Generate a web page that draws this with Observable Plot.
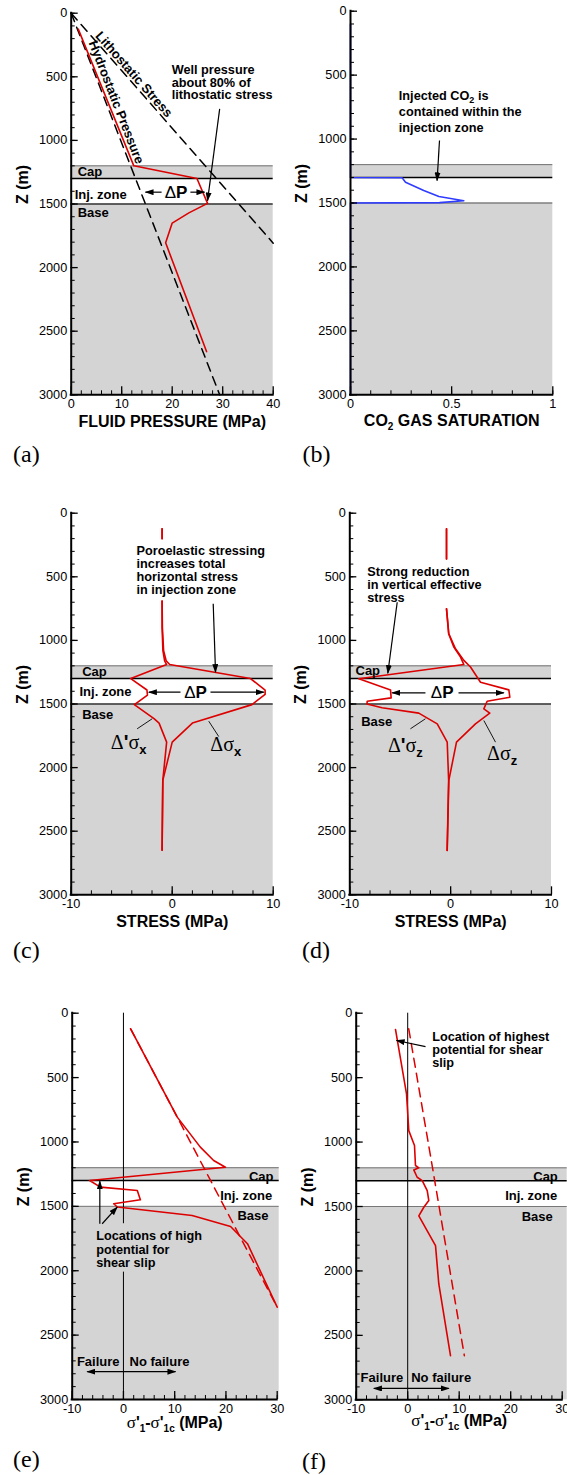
<!DOCTYPE html>
<html><head><meta charset="utf-8">
<script src="https://cdn.jsdelivr.net/npm/d3@7"></script>
<script src="https://cdn.jsdelivr.net/npm/@observablehq/plot@0.6"></script>
<style>
body{margin:0;background:#fff;}
#root{position:relative;width:567px;height:1475px;overflow:hidden;background:#fff;}
.panel{position:absolute;}
.panel svg{overflow:visible;}
.plabel{position:absolute;font-family:"Liberation Serif","Times New Roman",serif;font-size:24px;line-height:28px;color:#000;}
</style></head><body><div id="root"></div>
<script>
// ---------------- data ----------------
const depthTicks = [0, 500, 1000, 1500, 2000, 2500, 3000];
const depthMinor = d3.range(0, 3001, 100);
const layerTop = [1200, 1500];
const layerBottom = [1300, 3000];

// (a) fluid pressure
const hydroDepth = [0, 3000], hydroPress = [0, 29.4];
const lithoDepth = [0, 1808], lithoPress = [0, 40];
const wellDepth = [125, 1200, 1300, 1495, 1570, 1650, 1805, 2660];
const wellPress = [1.4, 12.4, 24.9, 27.0, 23.3, 20.0, 18.7, 26.8];
const pressTicks = [0, 10, 20, 30, 40];

// (b) CO2 gas saturation
const satDepth = [100, 1300, 1303, 1337, 1402, 1449, 1482, 1497, 1500, 3000];
const satValue = [0, 0, 0.255, 0.272, 0.362, 0.437, 0.56, 0.44, 0, 0];
const satTicks = [0, 0.5, 1];

// (c) horizontal stress change
const sxTopDepth = [123, 200], sxTop = [-1.0, -1.0];
const sxDepth = [690, 900, 1080, 1160, 1190, 1300, 1390, 1425, 1480, 1505, 1650, 1800, 2100, 2650];
const sxTotal = [-1.0, -0.97, -0.85, -0.6, -0.25, 7.75, 9.2, 9.2, 8.3, 7.9, 2.0, 0.0, -0.93, -1.0];
const sxEffDepth = [690, 900, 1080, 1160, 1190, 1300, 1390, 1430, 1485, 1505, 1615, 1650, 1800, 2100, 2650];
const sxEff = [-1.0, -1.0, -0.92, -0.75, -0.55, -4.1, -2.5, -2.45, -3.4, -3.75, -1.8, -1.3, -0.55, -0.93, -1.0];
const stressTicks = [-10, 0, 10];

// (d) vertical stress change
const szTopDepth = [123, 360], szTop = [-0.41, -0.41];
const szDepth = [752, 948, 1066, 1157, 1209, 1329, 1389, 1447, 1478, 1538, 1572, 1656, 1800, 2100, 2652];
const szTotal = [-0.41, -0.18, 0.48, 1.31, 1.97, 2.96, 5.77, 5.87, 3.62, 3.29, 3.88, 2.46, 0.58, -0.18, -0.34];
const szEffDepth = [752, 948, 1050, 1131, 1190, 1302, 1389, 1452, 1478, 1500, 1530, 1572, 1656, 1800, 2100, 2652];
const szEff = [-0.41, -0.2, 0.3, 0.98, 1.31, -9.1, -5.96, -5.9, -8.27, -8.3, -6.8, -3.16, -1.33, -0.34, -0.2, -0.35];

// (e) failure criterion, case 1
const eDepth = [121, 807, 1040, 1144, 1196, 1299, 1351, 1377, 1449, 1480, 1505, 1571, 1656, 1790, 2283];
const eSolid = [1.4, 10.5, 15.0, 17.6, 19.9, -6.6, -4.5, 2.7, 3.3, -1.9, -1.2, 13.4, 20.9, 24.2, 30.0];
const eDashDepth = [121, 860, 1610, 1740, 2283];
const eDash = [1.4, 11.2, 21.1, 22.8, 30.0];
const critTicks = [-10, 0, 10, 20, 30];

// (f) failure criterion, case 2
const fDepth = [126, 626, 911, 1027, 1182, 1200, 1216, 1273, 1299, 1376, 1454, 1506, 1573, 1804, 2101, 2658];
const fSolid = [-2.37, -0.23, 0.21, 1.32, 1.51, 2.16, 1.18, 1.84, 2.82, 3.79, 4.1, 3.13, 2.16, 5.4, 6.04, 8.31];
const fDashDepth = [121, 1195, 2658];
const fDash = [0.2, 4.8, 11.0];

// ---------------- helpers ----------------
const RED = "#dd0000", BLUE = "#2f3cff", GRAY = "#d4d4d4", ARROW = "#010101";
const FONT = "Liberation Sans, Arial, Helvetica, sans-serif";
const SERIF = "Liberation Serif, Times New Roman, serif";
const bands = layerTop.map((t, i) => ({top: t, bottom: layerBottom[i]}));
const pts = (xs, zs, seg = 0) => xs.map((x, i) => ({x, z: zs[i], seg}));
const T = (x, z, s, o = {}) => Plot.text([{x, z, s}], {x: "x", y: "z", text: "s", fontWeight: "bold", fontSize: 12.7, ...o});
const arrows = (list) => Plot.link(list.map(([x1, y1, x2, y2]) => ({x1, y1, x2, y2})), {x1: "x1", y1: "y1", x2: "x2", y2: "y2", stroke: ARROW, strokeWidth: 1.2});
const leaders = (list) => Plot.link(list.map(([x1, y1, x2, y2]) => ({x1, y1, x2, y2})), {x1: "x1", y1: "y1", x2: "x2", y2: "y2", stroke: "#000", strokeWidth: 0.9});
const fmt = d => String(d);

function rich(svg, key, parts) {
  d3.select(svg).selectAll("text, tspan").filter(function () {
    return this.textContent === key && this.children.length === 0;
  }).each(function () {
    const el = d3.select(this);
    el.text(null);
    let shift = 0;
    for (const p of parts) {
      const ts = el.append("tspan").text(p.t);
      const target = p.sub || 0;
      if (target !== shift) { ts.attr("dy", target - shift); shift = target; }
      if (p.fs) ts.attr("font-size", p.fs);
      if (p.fw) ts.attr("font-weight", p.fw);
      if (p.ff) ts.attr("font-family", p.ff);
    }
  });
}

const sigmaTitle = [
  {t: "σ", ff: SERIF, fw: "normal", fs: "17px"}, {t: "'", fw: "bold"}, {t: "1", sub: 4, fs: "10px"},
  {t: "-", fw: "bold"}, {t: "σ", ff: SERIF, fw: "normal", fs: "17px"}, {t: "'", fw: "bold"},
  {t: "1c", sub: 4, fs: "10px"}, {t: " (MPa)", fw: "bold"}
];
const dP = [{t: "Δ", fw: "normal"}, {t: "P", fw: "bold"}];
const dsig = (prime, sub) => [
  {t: "Δ", ff: SERIF, fw: "normal"}, ...(prime ? [{t: "'", ff: FONT, fw: "bold"}] : []),
  {t: "σ", ff: SERIF, fw: "normal"}, {t: sub, sub: 5, ff: FONT, fw: "bold", fs: "13px"}
];

function makePanel(c) {
  const frameW = c.fr - c.fl, frameH = c.fb - c.ft;
  const [xmin, xmax] = c.xdom;
  const ext = c.ext || 0;
  const marks = [
    Plot.rect(bands, {x1: () => xmin, x2: () => xmax, y1: "top", y2: "bottom", fill: GRAY, insetRight: -ext}),
    Plot.ruleY([1200], {x1: () => xmin, x2: () => xmax, stroke: "#707070", strokeWidth: 1, insetRight: -ext}),
    Plot.ruleY([1300], {x1: () => xmin, x2: () => xmax, stroke: "#000", strokeWidth: 1.5, insetRight: -ext}),
    Plot.ruleY([1500], {x1: () => xmin, x2: () => xmax, stroke: c.line1500 || "#333", strokeWidth: c.w1500 || 1.3, insetRight: -ext}),
    ...c.marks,
    Plot.ruleX([xmin], {strokeWidth: 2, strokeLinecap: "square"}),
    Plot.ruleY([3000], {strokeWidth: 2, strokeLinecap: "square"}),
    Plot.tickY(depthMinor, {y: d => d, insetRight: frameW - 4, strokeWidth: 1}),
    Plot.tickY(depthTicks, {y: d => d, insetRight: frameW - 7, strokeWidth: 1.3}),
    Plot.tickX(c.xminor, {x: d => d, insetTop: frameH - 4, strokeWidth: 1}),
    Plot.tickX(c.xticks, {x: d => d, insetTop: frameH - 8, strokeWidth: 1.3}),
    Plot.axisY(depthTicks, {tickSize: 0, tickPadding: 4, tickFormat: fmt, label: null, fontSize: 12.7}),
    Plot.axisX(c.xticks, {tickSize: 0, tickPadding: 4, tickFormat: fmt, label: null, fontSize: 12.7}),
    Plot.text([c.xtitle], {text: d => d, frameAnchor: "bottom", dy: c.xtitleDy, fontWeight: "bold", fontSize: 16}),
    Plot.text(["Z (m)"], {text: d => d, frameAnchor: "left", dx: -48.5, rotate: -90, fontWeight: "bold", fontSize: 16})
  ];
  const svg = Plot.plot({
    width: c.W, height: c.H,
    marginLeft: c.fl - c.L, marginRight: c.L + c.W - c.fr,
    marginTop: c.ft - c.T, marginBottom: c.T + c.H - c.fb,
    x: {domain: c.xdom}, y: {domain: [0, 3000], reverse: true},
    style: {fontFamily: FONT, fontSize: "12.7px", background: "transparent", overflow: "visible", maxWidth: "none"},
    marks
  });
  const s = d3.select(svg);
  const defs = s.append("defs");
  defs.append("marker").attr("id", "tri" + c.id).attr("viewBox", "0 0 10 10")
    .attr("refX", 9).attr("refY", 5).attr("markerWidth", 9).attr("markerHeight", 6)
    .attr("markerUnits", "userSpaceOnUse").attr("orient", "auto").attr("preserveAspectRatio", "none")
    .append("path").attr("d", "M0,0L10,5L0,10Z").attr("fill", "#000");
  s.selectAll(`g[stroke="${ARROW}"] path, path[stroke="${ARROW}"]`).attr("marker-end", `url(#tri${c.id})`);
  for (const [key, parts] of (c.rich || [])) rich(svg, key, parts);
  const div = document.createElement("div");
  div.className = "panel";
  div.style.left = c.L + "px"; div.style.top = c.T + "px"; div.style.width = c.W + "px"; div.style.height = c.H + "px";
  div.appendChild(svg);
  document.getElementById("root").appendChild(div);
}

function panelLabel(s, left, cy) {
  const d = document.createElement("div");
  d.className = "plabel"; d.textContent = s;
  d.style.left = left + "px"; d.style.top = (cy - 15) + "px";
  document.getElementById("root").appendChild(d);
}

const even = (a, b, step) => d3.range(a, b + step / 2, step);

// ---------------- (a) ----------------
makePanel({
  id: "a", L: 0, T: 0, W: 290, H: 440, fl: 70.7, fr: 272.7, ft: 12.7, fb: 394.3,
  xdom: [0, 40], xticks: pressTicks, xminor: even(0, 40, 2), xtitle: "FLUID PRESSURE (MPa)", xtitleDy: 32.4,
  marks: [
    Plot.line(pts(hydroPress, hydroDepth), {x: "x", y: "z", stroke: "#000", strokeWidth: 1.5, strokeDasharray: "9,6"}),
    Plot.line(pts(lithoPress, lithoDepth), {x: "x", y: "z", stroke: "#000", strokeWidth: 1.5, strokeDasharray: "9,6"}),
    Plot.line(pts(wellPress, wellDepth), {x: "x", y: "z", stroke: RED, strokeWidth: 1.6}),
    T(12.4, 482, "Lithostatic Stress", {rotate: 48.7, fontSize: 13}),
    T(8.9, 700, "Hydrostatic Pressure", {rotate: 68.7, fontSize: 13}),
    T(19.9, 545, "Well pressure\nabout 80% of\nlithostatic stress", {textAnchor: "start", lineHeight: 0.99}),
    arrows([[29.4, 752, 27.0, 1473], [17.9, 1407, 14.7, 1407], [23.6, 1407, 26.4, 1407]]),
    T(20.75, 1407, "ΔP", {fontSize: 17}),
    T(0, 1250, "Cap", {textAnchor: "start", dx: 6.5, fontSize: 13}),
    T(0, 1425, "Inj. zone", {textAnchor: "start", dx: 3.5, fontSize: 13}),
    T(0, 1570, "Base", {textAnchor: "start", dx: 6.5, fontSize: 13})
  ],
  rich: [["ΔP", dP]]
});
panelLabel("(a)", 13, 455);

// ---------------- (b) ----------------
makePanel({
  id: "b", L: 290, T: 0, W: 277, H: 440, fl: 350, fr: 552.3, ft: 10.7, fb: 394.3,
  xdom: [0, 1], xticks: satTicks, xminor: even(0, 1, 0.1), xtitle: "CO2TITLE", xtitleDy: 31,
  line1500: "#555", w1500: 1,
  marks: [
    Plot.line(pts(satValue, satDepth), {x: "x", y: "z", stroke: BLUE, strokeWidth: 1.6}),
    T(0.239, 777, "Injected CO2 is\ncontained within the\ninjection zone", {textAnchor: "start", lineHeight: 1.25}),
    arrows([[0.44, 1011, 0.428, 1324]])
  ],
  rich: [["CO2TITLE", [{t: "CO"}, {t: "2", sub: 4, fs: "10px"}, {t: " GAS SATURATION"}]],
         ["Injected CO2 is", [{t: "Injected CO"}, {t: "2", sub: 3, fs: "9px"}, {t: " is"}]]]
});
panelLabel("(b)", 302.5, 455);

// ---------------- (c) ----------------
makePanel({
  id: "c", L: 0, T: 480, W: 290, H: 460, fl: 70.7, fr: 272.7, ft: 512.7, fb: 894.3,
  xdom: [-10, 10], xticks: stressTicks, xminor: even(-10, 10, 2), xtitle: "STRESS (MPa)", xtitleDy: 32.4,
  marks: [
    Plot.line([...pts(sxTop, sxTopDepth, 0), ...pts(sxTotal, sxDepth, 1)], {x: "x", y: "z", z: "seg", stroke: RED, strokeWidth: 1.6}),
    Plot.line([...pts(sxTop, sxTopDepth, 0), ...pts(sxEff, sxEffDepth, 1)], {x: "x", y: "z", z: "seg", stroke: RED, strokeWidth: 1.6}),
    T(-3.53, 450, "Poroelastic stressing\nincreases total\nhorizontal stress\nin injection zone", {textAnchor: "start", lineHeight: 1.03}),
    arrows([[4.06, 712, 4.29, 1250], [0.82, 1407, -2.32, 1407], [3.79, 1407, 9.07, 1407]]),
    T(2.31, 1407, "ΔP", {fontSize: 17}),
    T(-10, 1245, "Cap", {textAnchor: "start", dx: 11, fontSize: 13}),
    T(-10, 1407, "Inj. zone", {textAnchor: "start", dx: 8.3, fontSize: 13}),
    T(-10, 1585, "Base", {textAnchor: "start", dx: 11, fontSize: 13}),
    leaders([[-3.47, 1695, -1.98, 1616], [4.61, 1756, 3.62, 1635]]),
    T(-4.31, 1800, "DSXE", {fontSize: 20}),
    T(5.3, 1818, "DSXT", {fontSize: 20})
  ],
  rich: [["ΔP", dP], ["DSXE", dsig(true, "x")], ["DSXT", dsig(false, "x")]]
});
panelLabel("(c)", 13, 951);

// ---------------- (d) ----------------
makePanel({
  id: "d", L: 290, T: 480, W: 277, H: 460, fl: 349.3, fr: 551, ft: 512.7, fb: 894.3,
  xdom: [-10, 10], xticks: stressTicks, xminor: even(-10, 10, 2), xtitle: "STRESS (MPa)", xtitleDy: 32.4,
  marks: [
    Plot.line([...pts(szTop, szTopDepth, 0), ...pts(szTotal, szDepth, 1)], {x: "x", y: "z", z: "seg", stroke: RED, strokeWidth: 1.6}),
    Plot.line([...pts(szTop, szTopDepth, 0), ...pts(szEff, szEffDepth, 1)], {x: "x", y: "z", z: "seg", stroke: RED, strokeWidth: 1.6}),
    T(-8.27, 560, "Strong reduction\nin vertical effective\nstress", {textAnchor: "start", lineHeight: 1.03}),
    arrows([[-5.3, 700, -6.23, 1258], [-2.5, 1412, -5.8, 1412], [0.78, 1412, 5.27, 1412]]),
    T(-0.84, 1412, "ΔP", {fontSize: 17}),
    T(-10, 1237, "Cap", {textAnchor: "start", dx: 5.7, fontSize: 13}),
    T(-10, 1643, "Base", {textAnchor: "start", dx: 11.4, fontSize: 13}),
    leaders([[-3.99, 1695, -2.5, 1616], [4.45, 1800, 3.29, 1630]]),
    T(-4.49, 1826, "DSZE", {fontSize: 20}),
    T(5.11, 1892, "DSZT", {fontSize: 20})
  ],
  rich: [["ΔP", dP], ["DSZE", dsig(true, "z")], ["DSZT", dsig(false, "z")]]
});
panelLabel("(d)", 302, 951);

// ---------------- (e) ----------------
makePanel({
  id: "e", L: 0, T: 990, W: 290, H: 450, fl: 71.7, fr: 276.7, ft: 1012.7, fb: 1399,
  xdom: [-10, 30], xticks: critTicks, xminor: even(-10, 30, 2), xtitle: "SIGTITLE", xtitleDy: 28, ext: 2,
  line1500: "#777", w1500: 1,
  marks: [
    Plot.ruleX([{a: 0, b: 1635}, {a: 2011, b: 3000}], {x: () => 0, y1: "a", y2: "b", stroke: "#000", strokeWidth: 1}),
    Plot.line(pts(eDash, eDashDepth), {x: "x", y: "z", stroke: RED, strokeWidth: 1.5, strokeDasharray: "9,6"}),
    Plot.line(pts(eSolid, eDepth), {x: "x", y: "z", stroke: RED, strokeWidth: 1.6}),
    T(-5.32, 1834, "Locations of high\npotential for\nshear slip", {textAnchor: "start", lineHeight: 1.06}),
    arrows([[-4.61, 1635, -4.61, 1305], [-4.15, 1635, -1.22, 1506], [0, 2784, -7.07, 2784], [0, 2784, 10.16, 2784]]),
    T(30, 1272, "Cap", {textAnchor: "end", dx: -3.7, fontSize: 13}),
    T(30, 1415, "Inj. zone", {textAnchor: "end", dx: -5, fontSize: 13}),
    T(30, 1572, "Base", {textAnchor: "end", dx: -8.7, fontSize: 13}),
    T(-0.77, 2710, "Failure", {textAnchor: "end", fontSize: 13}),
    T(1.18, 2710, "No failure", {textAnchor: "start", fontSize: 13})
  ],
  rich: [["SIGTITLE", sigmaTitle]]
});
panelLabel("(e)", 13, 1460);

// ---------------- (f) ----------------
makePanel({
  id: "f", L: 290, T: 990, W: 277, H: 450, fl: 355.7, fr: 561.7, ft: 1012.7, fb: 1399.3,
  xdom: [-10, 30], xticks: critTicks, xminor: even(-10, 30, 2), xtitle: "SIGTITLE", xtitleDy: 26, ext: 5,
  line1500: "#777", w1500: 1,
  marks: [
    Plot.ruleX([0], {stroke: "#000", strokeWidth: 1}),
    Plot.line(pts(fDash, fDashDepth), {x: "x", y: "z", stroke: RED, strokeWidth: 1.5, strokeDasharray: "9,6"}),
    Plot.line(pts(fSolid, fDepth), {x: "x", y: "z", stroke: RED, strokeWidth: 1.6}),
    T(4.76, 284, "Location of highest\npotential for shear\nslip", {textAnchor: "start", lineHeight: 1.05}),
    arrows([[3.46, 259, -2.17, 212], [0, 2912, -6.58, 2912], [0, 2912, 7.98, 2912]]),
    T(30, 1272, "Cap", {textAnchor: "end", dx: -4.4, fontSize: 13}),
    T(30, 1415, "Inj. zone", {textAnchor: "end", dx: -5, fontSize: 13}),
    T(30, 1580, "Base", {textAnchor: "end", dx: -9.4, fontSize: 13}),
    T(-0.87, 2831, "Failure", {textAnchor: "end", fontSize: 13}),
    T(0.68, 2831, "No failure", {textAnchor: "start", fontSize: 13})
  ],
  rich: [["SIGTITLE", sigmaTitle]]
});
panelLabel("(f)", 302, 1462);
</script>
</body></html>
